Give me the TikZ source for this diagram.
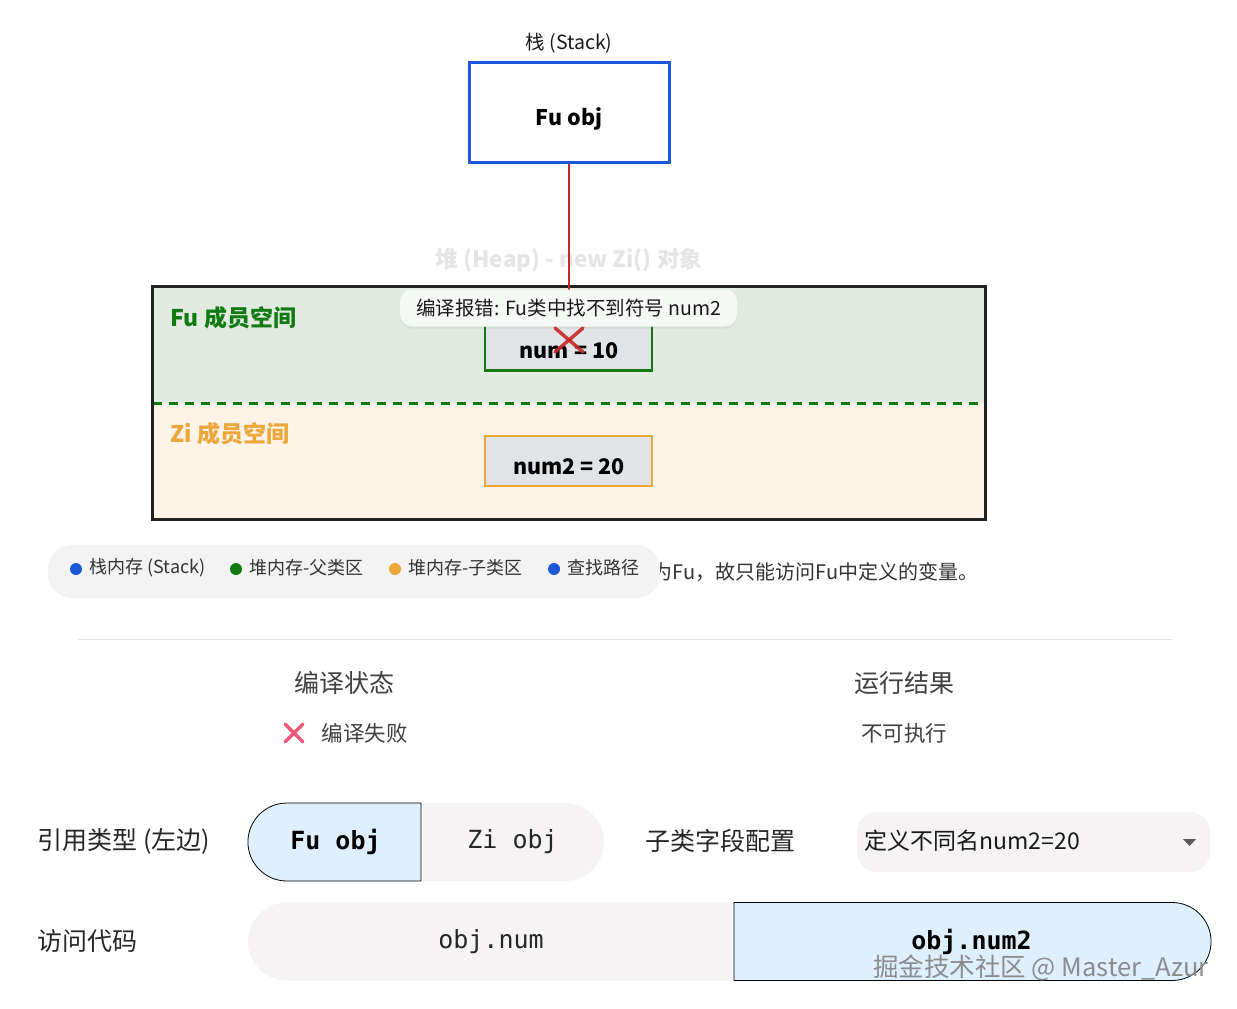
\documentclass[tikz,border=0pt]{standalone}
\usepackage{fontspec}
\setmainfont{Noto Sans CJK SC}
\newfontfamily\codefont{DejaVu Sans Mono}
\usepackage{tikz}
\usetikzlibrary{calc,shapes.misc,shadows,positioning}

\definecolor{stackblue}{RGB}{28,88,216}
\definecolor{heapline}{RGB}{34,34,34}
\definecolor{fugreen}{RGB}{18,122,18}
\definecolor{fubg}{RGB}{226,235,226}
\definecolor{ziorange}{RGB}{236,166,58}
\definecolor{zibg}{RGB}{253,243,231}
\definecolor{fieldgray}{RGB}{225,228,231}
\definecolor{pathred}{RGB}{198,40,40}
\definecolor{failpink}{RGB}{240,88,122}
\definecolor{selblue}{RGB}{222,240,254}
\definecolor{offgray}{RGB}{245,243,243}
\definecolor{legendbg}{RGB}{243,243,243}
\definecolor{tipbg}{RGB}{246,248,246}

\begin{document}
\begin{tikzpicture}[x=1pt,y=-1pt]

\tikzset{
  stackbox/.style={rectangle, draw=stackblue, line width=3pt, fill=white,
                  minimum width=200pt, minimum height=100pt},
  region/.style={rectangle, inner sep=0pt, minimum width=832pt, minimum height=116pt},
  regiontitle/.style={anchor=west, font=\fontsize{23}{27}\selectfont\bfseries},
  fieldbox/.style={rectangle, line width=2.5pt, fill=fieldgray,
                  minimum width=167pt, minimum height=46pt},
  fieldtext/.style={font=\fontsize{21.5}{25}\selectfont\bfseries},
  legenddot/.style={circle, inner sep=0pt, minimum size=12pt},
  legendtext/.style={anchor=west, font=\fontsize{18}{21}\selectfont, text=black!80},
  colhead/.style={font=\fontsize{25}{29}\selectfont, text=black!75},
  colvalue/.style={font=\fontsize{21.5}{25}\selectfont, text=black!75},
  rowlabel/.style={anchor=west, font=\fontsize{25}{29}\selectfont, text=black!85},
  toggleon/.style={rounded rectangle, draw=black, line width=0.8pt, fill=selblue,
                  minimum height=78pt, inner sep=0pt,
                  font=\codefont\bfseries\fontsize{25}{28}\selectfont},
  toggleoff/.style={rounded rectangle, fill=offgray, minimum height=78pt, inner sep=0pt,
                  font=\codefont\fontsize{25}{28}\selectfont, text=black!85},
  crossmark/.style={line width=3.5pt, line cap=round}
}

\useasboundingbox (0,0) rectangle (1237,1009);
\fill[white] (0,0) rectangle (1237,1009);

% Stack
\node[font=\fontsize{19.5}{22}\selectfont, text=black!90] (stacktitle) at (569,43) {栈 (Stack)};
\node[stackbox] (stack) at (569,112) {};
\node[font=\fontsize{21.5}{25}\selectfont\bfseries] (stackref) at (569,119) {Fu obj};

% Heap
\node[font=\fontsize{22.5}{26}\selectfont\bfseries, text=black!10] (heaptitle) at (569,260) {堆 (Heap) - new Zi() 对象};
\node[region, fill=fubg] (furegion) at (569,345) {};
\node[region, fill=zibg] (ziregion) at (569,461) {};
\draw[fugreen, line width=3pt, dash pattern=on 9pt off 7pt] (furegion.south west) -- (furegion.south east);
\draw[heapline, line width=3pt] (furegion.north west) rectangle (ziregion.south east);
\node[regiontitle, text=fugreen] (futitle) at (167,318) {Fu 成员空间};
\node[regiontitle, text=ziorange] (zititle) at (167,434) {Zi 成员空间};

% Lookup path
\coordinate (miss) at (569,340);
\draw[pathred, line width=2.5pt] (stack.south) -- (miss);

% Fields
\node[fieldbox, draw=fugreen] (num) at (568.5,347.5) {};
\node[fieldtext] (numtext) at (569,351) {num = 10};
\node[fieldbox, draw=ziorange, minimum height=50pt] (numtwo) at (568.5,461) {};
\node[fieldtext] (numtwotext) at (569,467) {num2 = 20};

% Error tip
\node[rounded corners=12pt, fill=tipbg, minimum width=337pt, minimum height=37pt,
      drop shadow={opacity=0.12, shadow xshift=0pt, shadow yshift=-2pt},
      font=\fontsize{19.5}{22}\selectfont, text=black!90] (tip) at (568.5,308) {编译报错: Fu类中找不到符号 num2};
\draw[pathred, crossmark, opacity=0.9] ($(miss)+(-14,-12)$) -- ($(miss)+(14,12)$);
\draw[pathred, crossmark, opacity=0.9] ($(miss)+(14,-12)$) -- ($(miss)+(-14,12)$);

% Legend
\node[anchor=west, font=\fontsize{20}{23}\selectfont, text=black!80] (note) at (649,572) {为Fu，故只能访问Fu中定义的变量。};
\node[rounded corners=24pt, fill=legendbg, minimum width=612pt, minimum height=50pt,
      drop shadow={opacity=0.10, shadow xshift=0pt, shadow yshift=-3pt}] (legend) at (354,570) {};
\node[legenddot, fill=stackblue] (dotstack) at (76,569) {};
\node[legendtext] (legstack) at (86,568) {栈内存 (Stack)};
\node[legenddot, fill=fugreen] (dotfu) at (236,569) {};
\node[legendtext] (legfu) at (246,568) {堆内存-父类区};
\node[legenddot, fill=ziorange] (dotzi) at (395,569) {};
\node[legendtext] (legzi) at (405,568) {堆内存-子类区};
\node[legenddot, fill=stackblue] (dotpath) at (554,569) {};
\node[legendtext] (legpath) at (564,568) {查找路径};

% Result
\draw[black!10, line width=1pt] (78,639) -- (1172,639);
\node[colhead] (compilehead) at (344,683) {编译状态};
\node[colhead] (runhead) at (904,683) {运行结果};
\coordinate (failx) at (294,733);
\draw[failpink, crossmark] ($(failx)+(-9,-9)$) -- ($(failx)+(9,9)$);
\draw[failpink, crossmark] ($(failx)+(9,-9)$) -- ($(failx)+(-9,9)$);
\node[colvalue, anchor=west] (compileval) at (318,733) {编译失败};
\node[colvalue] (runval) at (904,733) {不可执行};

% Controls
\node[rowlabel] (reflabel) at (34,841) {引用类型 (左边)};
\node[toggleon, rounded rectangle east arc=none, minimum width=173pt] (fuobj) at (335.5,842) {Fu obj};
\node[toggleoff, rounded rectangle west arc=none, minimum width=181pt] (ziobj) at (512.5,842) {Zi obj};
\node[rowlabel] (fieldlabel) at (642,841) {子类字段配置};
\node[rounded corners=20pt, fill=offgray, minimum width=353pt, minimum height=60pt] (config) at (1033.5,842) {};
\node[anchor=west, font=\fontsize{23}{26}\selectfont, text=black!90] (configtext) at (861,841) {定义不同名num2=20};
\fill[black!65] (1183,839) -- (1196,839) -- (1189.5,846) -- cycle;

\node[rowlabel] (codelabel) at (34,941) {访问代码};
\node[toggleoff, rounded rectangle east arc=none, minimum width=484pt] (accnum) at (491,941.5) {obj.num};
\node[toggleon, rounded rectangle west arc=none, minimum width=477pt] (accnumtwo) at (971.5,941.5) {obj.num2};

% Watermark
\node[anchor=east, font=\fontsize{25.5}{29}\selectfont, text=black!45] (mark) at (1212,968) {掘金技术社区 @ Master\_Azur};

\end{tikzpicture}
\end{document}
